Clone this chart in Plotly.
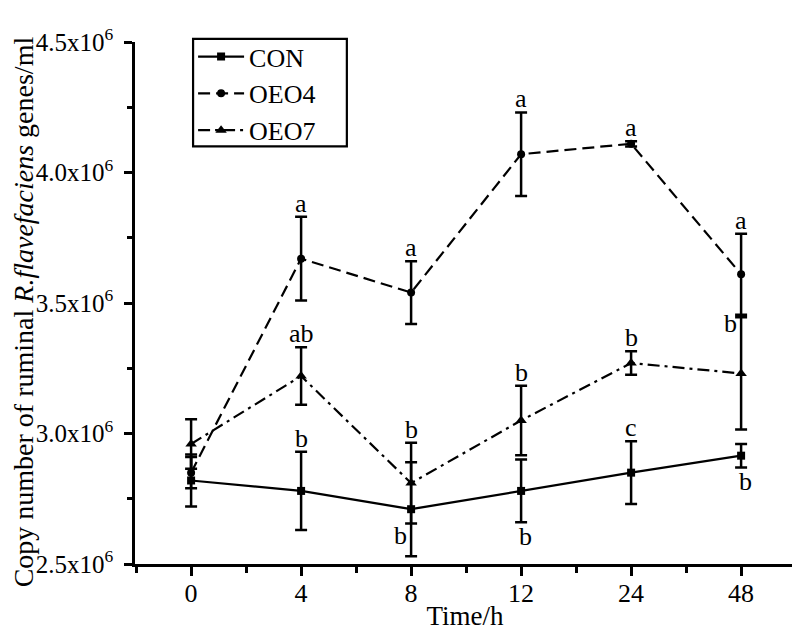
import plotly.graph_objects as go

times = ["0", "4", "8", "12", "24", "48"]

con = [2.82e6, 2.78e6, 2.71e6, 2.78e6, 2.85e6, 2.915e6]
con_err = [0.10e6, 0.15e6, 0.18e6, 0.12e6, 0.12e6, 0.045e6]
oeo4 = [2.85e6, 3.67e6, 3.54e6, 4.07e6, 4.11e6, 3.61e6]
oeo4_err = [0.06e6, 0.16e6, 0.12e6, 0.16e6, 0.01e6, 0.155e6]
oeo7 = [2.96e6, 3.22e6, 2.81e6, 3.05e6, 3.27e6, 3.23e6]
oeo7_err = [0.095e6, 0.11e6, 0.155e6, 0.133e6, 0.045e6, 0.215e6]

# significance letters and placement (above / below / belowleft / left / none)
con_lab = ["", "b", "b", "b", "c", "b"]
con_pos = ["none", "above", "belowleft", "below", "above", "below"]
oeo4_lab = ["", "a", "a", "a", "a", "a"]
oeo4_pos = ["none", "above", "above", "above", "above", "above"]
oeo7_lab = ["", "ab", "b", "b", "b", "b"]
oeo7_pos = ["none", "above", "above", "above", "above", "left"]

y_ticks = [2.5e6, 3.0e6, 3.5e6, 4.0e6, 4.5e6]
y_ticktext = ["2.5x10<sup>6</sup>", "3.0x10<sup>6</sup>", "3.5x10<sup>6</sup>",
              "4.0x10<sup>6</sup>", "4.5x10<sup>6</sup>"]
y_title = "Copy number of ruminal <i>R.flavefaciens</i> genes/ml"
x_title = "Time/h"

xi = list(range(len(times)))
FONT = "Liberation Serif, Times New Roman, Times, serif"

fig = go.Figure()

def add_series(name, vals, errs, dash, symbol, msize):
    fig.add_trace(go.Scatter(
        x=xi, y=vals, name=name, mode="lines+markers",
        line=dict(color="black", width=2.2, dash=dash),
        marker=dict(symbol=symbol, size=msize, color="black"),
        error_y=dict(type="data", array=errs, visible=True, color="black",
                     thickness=2.5, width=6),
    ))

add_series("CON", con, con_err, "solid", "square", 8)
add_series("OEO4", oeo4, oeo4_err, "12px,6px", "circle", 8)
add_series("OEO7", oeo7, oeo7_err, "12px,5px,3px,5px", "triangle-up", 10)

def add_labels(vals, errs, labs, poss):
    for i, (v, e, t, p) in enumerate(zip(vals, errs, labs, poss)):
        if p == "none" or not t:
            continue
        if p == "above":
            fig.add_annotation(x=xi[i], y=v + e, text=t, showarrow=False,
                               yanchor="bottom", xanchor="center", yshift=-3)
        elif p == "below":
            fig.add_annotation(x=xi[i], y=v - e, text=t, showarrow=False,
                               yanchor="top", xanchor="center", yshift=2, xshift=4)
        elif p == "belowleft":
            fig.add_annotation(x=xi[i], y=v - e, text=t, showarrow=False,
                               yanchor="bottom", xanchor="right", xshift=-2, yshift=4)
        elif p == "left":
            fig.add_annotation(x=xi[i], y=v + e, text=t, showarrow=False,
                               yanchor="middle", xanchor="right", xshift=-2, yshift=-6)

add_labels(con, con_err, con_lab, con_pos)
add_labels(oeo4, oeo4_err, oeo4_lab, oeo4_pos)
add_labels(oeo7, oeo7_err, oeo7_lab, oeo7_pos)

fig.update_annotations(font=dict(family=FONT, size=26, color="black"))

# y-axis title as a rotated annotation so it can be centred like the original
fig.add_annotation(text=y_title, xref="paper", yref="paper", x=-0.169, y=0.483,
                   xanchor="center", yanchor="middle", textangle=-90,
                   showarrow=False, font=dict(family=FONT, size=28, color="black"))

# legend frame drawn as a shape so its padding can match the original
fig.add_shape(type="rect", xref="paper", yref="paper",
              x0=0.088, x1=0.321, y0=0.80, y1=1.006,
              line=dict(color="black", width=2.2), fillcolor="rgba(0,0,0,0)",
              layer="above")

# the page body adds an 8px offset, margins compensate for it
fig.update_layout(
    width=800, height=631,
    margin=dict(l=127, r=13, t=34, b=73),
    plot_bgcolor="white", paper_bgcolor="white",
    font=dict(family=FONT, size=25, color="black"),
    showlegend=True,
    legend=dict(x=0.088, y=1.017, xanchor="left", yanchor="top",
                borderwidth=0, bgcolor="rgba(0,0,0,0)",
                font=dict(family=FONT, size=26, color="black"),
                tracegroupgap=0, itemwidth=46),
)

fig.update_xaxes(
    range=[-0.51, 5.49], tickvals=xi, ticktext=times,
    showline=True, linecolor="black", linewidth=2.5,
    ticks="outside", ticklen=9, tickwidth=2.5, tickcolor="black",
    minor=dict(ticks="outside", ticklen=6, tickwidth=2.5, tickcolor="black",
               tick0=-0.5, dtick=0.5),
    showgrid=False, zeroline=False,
    tickfont=dict(family=FONT, size=26),
    ticklabelstandoff=-5,
    title=dict(text=x_title, font=dict(family=FONT, size=27), standoff=0),
)
fig.update_yaxes(
    range=[2.5e6, 4.5e6], tickvals=y_ticks, ticktext=y_ticktext,
    showline=True, linecolor="black", linewidth=2.5,
    ticks="outside", ticklen=8, tickwidth=2.5, tickcolor="black",
    minor=dict(ticks="outside", ticklen=5, tickwidth=2.5, tickcolor="black",
               tick0=2.5e6, dtick=0.25e6),
    showgrid=False, zeroline=False,
    tickfont=dict(family=FONT, size=25),
    ticklabelstandoff=6,
)

fig.write_html("out.html")
